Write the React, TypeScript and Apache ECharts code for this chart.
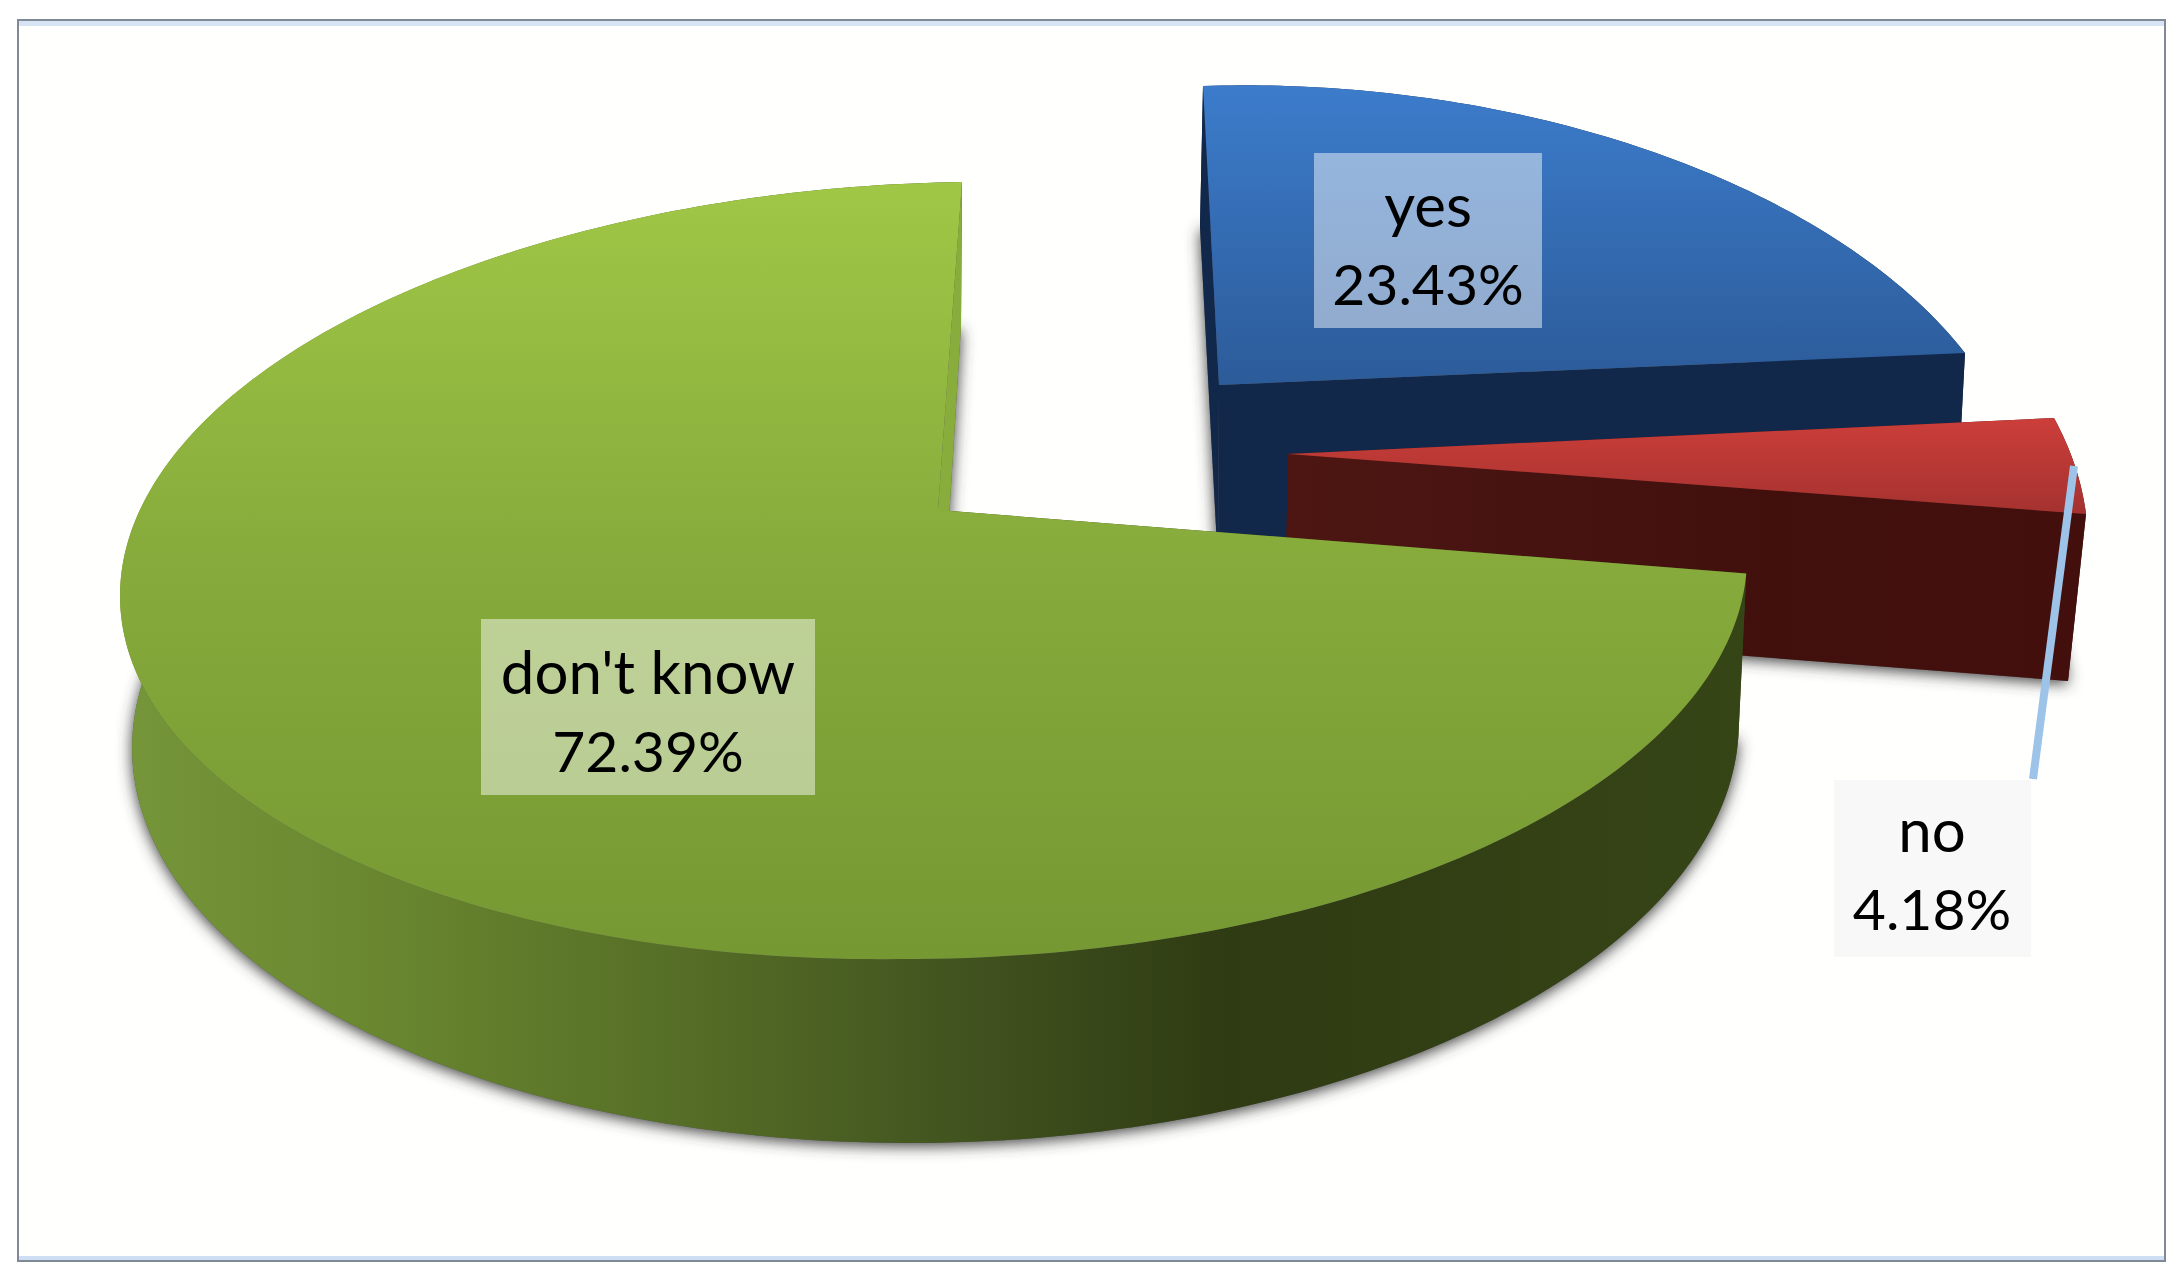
import React, { useEffect, useRef } from "react";
import * as echarts from "echarts";

const categories = ["yes", "no", "don't know"];
const shares = [23.43, 4.18, 72.39];

type P = [number, number];
type Anchor = [number, number, number]; // world angle (deg), screen x, screen y
type Disc = { cx: number; cy: number; a: number; b: number; g: number; tilt: number; q: number };

const FONT = "Lato, Carlito, 'Open Sans', sans-serif";

const grad = (x0: number, y0: number, x1: number, y1: number, stops: [number, string][]) =>
  new echarts.graphic.LinearGradient(x0, y0, x1, y1, stops.map(([offset, color]) => ({ offset, color })));

// Perspective calibration of the exploded slices. Small wedges: the top and the bottom
// disc are projective images of the unit circle pinned by apex + 3 rim anchors.
// The big wedge: an ellipse with a perspective boost q that moves the apex off its centre.
const slices: any[] = [
  {
    topApex: [1219, 385] as P,
    top: [[0, 1203, 86], [42, 1620, 141], [84.35, 1965, 353]] as Anchor[],
    botApex: [1218, 565] as P,
    bot: [[0, 1200, 227], [42, 1600, 300], [84.35, 1957, 505]] as Anchor[],
    topFill: () => grad(0, 0, 0, 1, [[0, "#3c7ccb"], [1, "#2c5b99"]]),
    sideFill: () => "#12284a",
    startFill: "#12284a",
    endFill: () => "#12284a",
    box: [1314, 153, 228, 175],
    boxFill: "rgba(255,255,255,0.47)",
    textX: 1428,
    textY: [204, 283],
  },
  {
    topApex: [1288, 454] as P,
    top: [[84.35, 2054, 418], [92, 2075, 466], [99.4, 2086, 514]] as Anchor[],
    botApex: [1285, 620] as P,
    bot: [[84.35, 2040, 585], [92, 2058, 632], [99.4, 2068, 681]] as Anchor[],
    topFill: () => grad(0, 0, 0, 1, [[0, "#cc3e39"], [1, "#a43230"]]),
    sideFill: () => "#4b1512",
    startFill: "#4b1512",
    endFill: () => grad(0, 0, 1, 0, [[0, "#4d1613"], [0.6, "#41100d"], [1, "#430f0d"]]),
    box: [1834, 780, 197, 177],
    boxFill: "#f8f8f8",
    textX: 1932,
    textY: [829, 908],
  },
  {
    topDisc: { cx: 933.5, cy: 570.5, a: 813, b: -28.5, g: 388.5, tilt: -11.7, q: -0.1557 } as Disc,
    botDisc: { cx: 935.5, cy: 735, a: 803, b: -25.5, g: 408, tilt: 0, q: -0.157 } as Disc,
    topFill: () => grad(0, 0, 0, 1, [[0, "#a0c746"], [0.5, "#86aa3b"], [1, "#769833"]]),
    sideFill: () =>
      grad(0, 0, 1, 0, [
        [0, "#76963a"],
        [0.15, "#6a8830"],
        [0.35, "#556d26"],
        [0.5, "#435620"],
        [0.68, "#2f3b13"],
        [1, "#364516"],
      ]),
    startFill: "#364516",
    endFill: () => "#89ad3c",
    box: [481, 619, 334, 176],
    boxFill: "rgba(255,255,255,0.47)",
    textX: 648,
    textY: [671, 750],
  },
];

const leader = { x1: 2074, y1: 466, x2: 2033, y2: 779 };

const rimWorld = (deg: number): P => {
  const r = (deg * Math.PI) / 180;
  return [Math.sin(r), -Math.cos(r)];
};

function solve(A: number[][], b: number[]): number[] {
  const n = b.length;
  const M = A.map((row, i) => [...row, b[i]]);
  for (let c = 0; c < n; c++) {
    let p = c;
    for (let r = c + 1; r < n; r++) if (Math.abs(M[r][c]) > Math.abs(M[p][c])) p = r;
    [M[c], M[p]] = [M[p], M[c]];
    for (let r = 0; r < n; r++) {
      if (r === c) continue;
      const f = M[r][c] / M[c][c];
      for (let k = c; k <= n; k++) M[r][k] -= f * M[c][k];
    }
  }
  return M.map((row, i) => row[n] / row[i]);
}

function homography(apex: P, rim: Anchor[]) {
  const pairs: [P, P][] = [
    [[0, 0], apex],
    ...rim.map(([d, u, v]) => [rimWorld(d), [u, v]] as [P, P]),
  ];
  const A: number[][] = [];
  const b: number[] = [];
  for (const [[x, y], [u, v]] of pairs) {
    A.push([x, y, 1, 0, 0, 0, -u * x, -u * y]);
    b.push(u);
    A.push([0, 0, 0, x, y, 1, -v * x, -v * y]);
    b.push(v);
  }
  const h = solve(A, b);
  return ([x, y]: P): P => {
    const w = h[6] * x + h[7] * y + 1;
    return [(h[0] * x + h[1] * y + h[2]) / w, (h[3] * x + h[4] * y + h[5]) / w];
  };
}

const discMap = (d: Disc) => ([x, y]: P): P => {
  const den = 1 + d.q * y;
  const Yp = (y + d.q) / den;
  const Xp = (x * Math.sqrt(1 - d.q * d.q)) / den;
  return [d.cx + d.a * Xp + d.b * Yp, d.cy + d.g * Yp + (Xp < 0 ? d.tilt * Xp : 0)];
};

const arc = (map: (p: P) => P, from: number, to: number): P[] => {
  const n = Math.max(2, Math.ceil(to - from));
  const pts: P[] = [];
  for (let i = 0; i <= n; i++) pts.push(map(rimWorld(from + ((to - from) * i) / n)));
  return pts;
};

export default function App() {
  const ref = useRef<HTMLDivElement>(null);
  useEffect(() => {
    document.body.style.margin = "0";
    const chart = echarts.init(ref.current!, undefined, { renderer: "svg" });
    const total = shares.reduce((a, b) => a + b, 0);

    const renderItem = (params: any, api: any) => {
      const i = params.dataIndex;
      const s = slices[i];
      let before = 0;
      for (let k = 0; k < i; k++) before += shares[k];
      const from = (before / total) * 360;
      const to = ((before + (api.value(0) as number)) / total) * 360;

      const T = s.topDisc ? discMap(s.topDisc) : homography(s.topApex, s.top);
      const B = s.botDisc ? discMap(s.botDisc) : homography(s.botApex, s.bot);
      const topArc = arc(T, from, to);
      const botArc = arc(B, from, to);
      const a = T([0, 0]);
      const c = B([0, 0]);

      const poly = (points: P[], style: any) => ({ type: "polygon", shape: { points }, style });

      const children: any[] = [
        poly([c, ...botArc], {
          fill: "#555555",
          shadowBlur: 15,
          shadowOffsetX: 0,
          shadowOffsetY: 3,
          shadowColor: "#3a3a3a",
        }),
        poly([a, topArc[0], botArc[0], c], { fill: s.startFill }),
        poly([...topArc, ...[...botArc].reverse()], { fill: s.sideFill() }),
        poly([a, topArc[topArc.length - 1], botArc[botArc.length - 1], c], { fill: s.endFill() }),
        poly([a, ...topArc], { fill: s.topFill() }),
      ];

      if (i === 1) {
        children.push({
          type: "line",
          shape: leader,
          style: { stroke: "#9dc3e9", lineWidth: 8, lineCap: "butt" },
        });
      }

      const [bx, by, bw, bh] = s.box;
      children.push({
        type: "rect",
        shape: { x: bx, y: by, width: bw, height: bh },
        style: { fill: s.boxFill },
      });
      [categories[i], `${(api.value(0) as number).toFixed(2)}%`].forEach((text, k) => {
        children.push({
          type: "text",
          style: {
            text,
            x: s.textX,
            y: s.textY[k],
            fill: "#000",
            fontSize: k === 0 ? 60 : 57,
            fontFamily: FONT,
            align: "center",
            verticalAlign: "middle",
          },
        });
      });
      return { type: "group", children };
    };

    chart.setOption({
      animation: false,
      backgroundColor: "#ffffff",
      graphic: [
        { type: "rect", z: 0, shape: { x: 18, y: 20, width: 2147, height: 1241 }, style: { fill: "#fffffe", stroke: "#808a96", lineWidth: 2 } },
        { type: "rect", z: 0, shape: { x: 19, y: 21, width: 2145, height: 5 }, style: { fill: "#d6e4f6" } },
        { type: "rect", z: 0, shape: { x: 19, y: 1256, width: 2145, height: 4 }, style: { fill: "#cfdff3" } },
      ],
      series: [
        {
          type: "custom",
          coordinateSystem: "none",
          silent: true,
          z: 5,
          renderItem,
          data: shares.map((value, i) => ({ name: categories[i], value })),
        },
      ],
    });
    return () => chart.dispose();
  }, []);
  return <div ref={ref} style={{ position: "absolute", left: 0, top: 0, width: 2180, height: 1277 }} />;
}
